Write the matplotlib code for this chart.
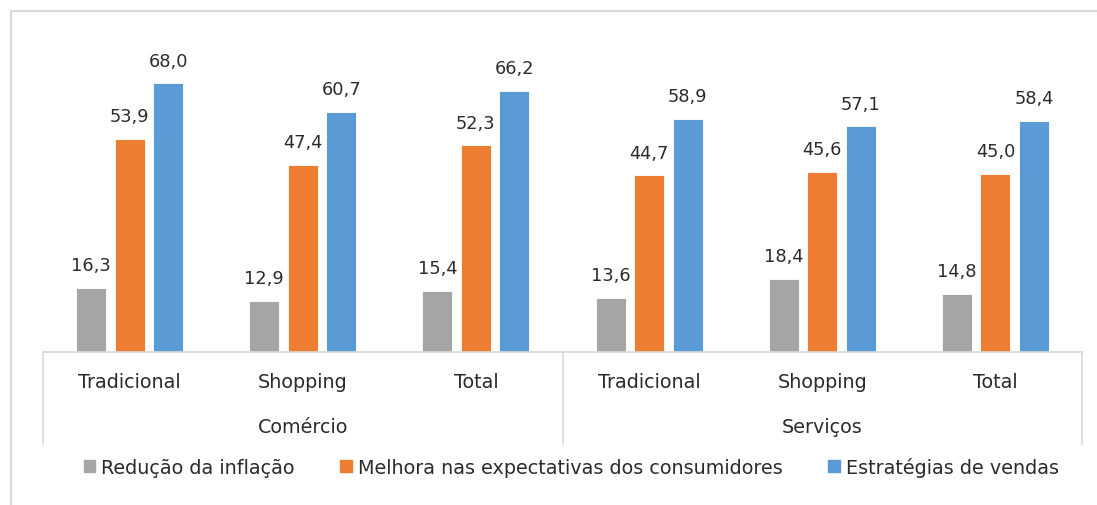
import matplotlib
matplotlib.use("Agg")
import matplotlib.pyplot as plt
import matplotlib.patches as mpatches
from matplotlib.lines import Line2D
import numpy as np

categories = ["Tradicional", "Shopping", "Total", "Tradicional", "Shopping", "Total"]
groups = ["Comércio", "Serviços"]
series_names = ["Redução da inflação", "Melhora nas expectativas dos consumidores", "Estratégias de vendas"]
reducao = [16.3, 12.9, 15.4, 13.6, 18.4, 14.8]
melhora = [53.9, 47.4, 52.3, 44.7, 45.6, 45.0]
estrategias = [68.0, 60.7, 66.2, 58.9, 57.1, 58.4]
colors = ["#A5A5A5", "#ED7D31", "#5B9BD5"]

plt.rcParams['font.family'] = ['DejaVu Sans']
txt = "#2B2B2B"
grid = "#D9D9D9"

W, H = 1097, 506
fig = plt.figure(figsize=(W / 100, H / 100), dpi=100)

# outer chart border
fig.patches.append(mpatches.Rectangle((11 / W, -0.1), 1.2, 1 - 12 / H + 0.1,
                                      transform=fig.transFigure, fill=False,
                                      edgecolor=grid, linewidth=1.5))

ax_left, ax_right, base_y = 43, 1082, 353
ymax = 75
px_per_unit = 3.95
ax_h = ymax * px_per_unit
ax = fig.add_axes([ax_left / W, 1 - base_y / H, (ax_right - ax_left) / W, ax_h / H])

x = np.arange(len(categories))
width = 0.173
step = 0.2225
all_series = [reducao, melhora, estrategias]
for i, (vals, c) in enumerate(zip(all_series, colors)):
    pos = x + (i - 1) * step
    ax.bar(pos, vals, width, color=c, edgecolor="white", linewidth=0.6, zorder=2)
    for px, v in zip(pos, vals):
        ax.annotate(f"{v:.1f}".replace(".", ","), (px, v), xytext=(0, 10),
                    textcoords="offset points", ha="center", va="bottom",
                    fontsize=12.8, color=txt, annotation_clip=False)

ax.set_xlim(-0.5, len(categories) - 0.5)
ax.set_ylim(0, ymax)
for s in ["top", "right", "left"]:
    ax.spines[s].set_visible(False)
ax.spines["bottom"].set_color(grid)
ax.spines["bottom"].set_linewidth(1.2)
ax.set_xticks([])
ax.set_yticks([])

tr = ax.get_xaxis_transform()
y_sep = -(445 - base_y) / ax_h
y_l1 = -(383 - base_y) / ax_h
y_l2 = -(428 - base_y) / ax_h
for xb in [-0.5, 2.5, 5.5]:
    ax.add_line(Line2D([xb, xb], [0, y_sep], transform=tr, color=grid,
                       linewidth=1.2, clip_on=False))
for xi, lab in zip(x, categories):
    ax.text(xi, y_l1, lab, transform=tr, ha="center", va="center",
            fontsize=13.8, color=txt)
for gi, g in enumerate(groups):
    ax.text(gi * 3 + 1, y_l2, g, transform=tr, ha="center", va="center",
            fontsize=13.8, color=txt)

handles = [mpatches.Patch(color=c) for c in colors]
fig.legend(handles, series_names, loc="center", bbox_to_anchor=(571 / W, 1 - 468 / H),
           ncol=3, frameon=False, fontsize=13.8, handlelength=0.6, handleheight=0.6,
           handletextpad=0.3, columnspacing=2.4, labelcolor=txt)

fig.savefig("out.png", dpi=100)
